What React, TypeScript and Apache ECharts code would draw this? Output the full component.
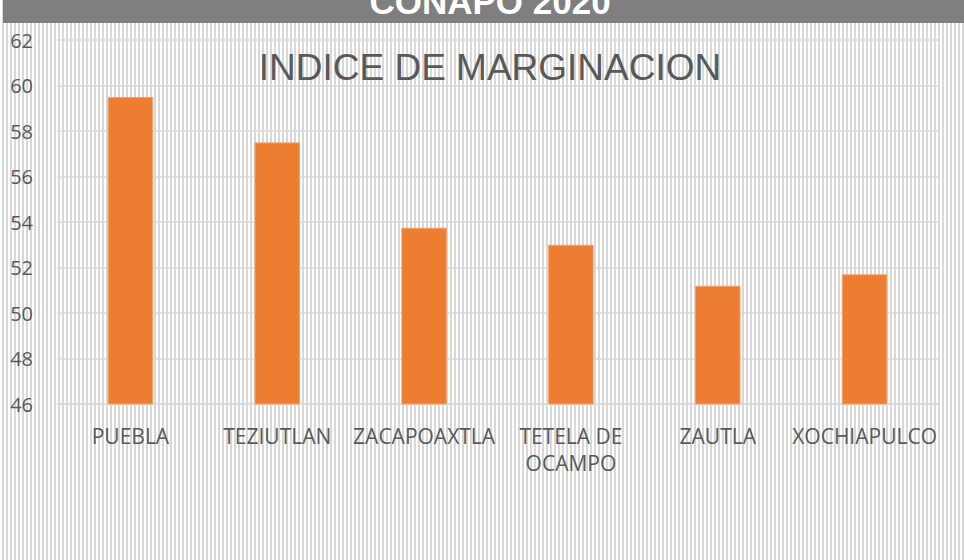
import React, { useEffect, useRef } from "react";
import * as echarts from "echarts";

const categories = ["PUEBLA", "TEZIUTLAN", "ZACAPOAXTLA", "TETELA DE OCAMPO", "ZAUTLA", "XOCHIAPULCO"];
const values = [59.5, 57.5, 53.75, 53.0, 51.2, 51.7];
const headerText = "CONAPO 2020";
const titleText = "INDICE DE MARGINACION";

export default function App() {
  const ref = useRef<HTMLDivElement>(null);
  useEffect(() => {
    document.body.style.margin = "0";
    const chart = echarts.init(ref.current!, null, { renderer: "svg" });
    chart.setOption({
      animation: false,
      graphic: [
        { type: "rect", left: 3, top: 0, shape: { width: 961, height: 23 }, style: { fill: "#7f7f7f" }, z: 10 },
        {
          type: "text", x: 490, y: -16, z: 11,
          style: { text: headerText, fill: "#ffffff", font: "bold 35px 'Liberation Sans', Arial", textAlign: "center", textVerticalAlign: "top" },
        },
        {
          type: "text", x: 490, y: 67, z: 11,
          style: { text: titleText, fill: "#595959", font: "37px 'Liberation Sans', Arial", textAlign: "center", textVerticalAlign: "middle" },
        },
      ],
      grid: { left: 57, right: 26, top: 40, bottom: 156, containLabel: false },
      xAxis: {
        type: "category",
        data: categories,
        axisLine: { show: true, lineStyle: { color: "#d9d9d9", width: 1.5 } },
        axisTick: { show: false },
        axisLabel: {
          color: "#595959", fontSize: 21, fontFamily: "'Open Sans', 'Noto Sans', sans-serif",
          margin: 18, lineHeight: 27, interval: 0,
          formatter: (v: string) => v.replace(" DE ", " DE\n"),
        },
      },
      yAxis: {
        type: "value", min: 46, max: 62, interval: 2,
        axisLine: { show: false }, axisTick: { show: false },
        splitLine: { lineStyle: { color: "#d9d9d9", width: 1.5 } },
        axisLabel: { color: "#595959", fontSize: 20, fontFamily: "'Open Sans', 'Noto Sans', sans-serif", margin: 24 },
      },
      series: [
        {
          type: "bar", data: values, barWidth: "31%",
          itemStyle: { color: "#ED7D31", borderColor: "#f3a16a", borderWidth: 1 },
        },
      ],
    });
    return () => chart.dispose();
  }, []);
  return (
    <div
      ref={ref}
      style={{
        position: "fixed", left: 0, top: 0, width: 964, height: 560,
        background: "repeating-linear-gradient(to right, #ffffff 0px, #ffffff 2px, #d8d8d8 2px, #d8d8d8 4px)",
      }}
    />
  );
}
